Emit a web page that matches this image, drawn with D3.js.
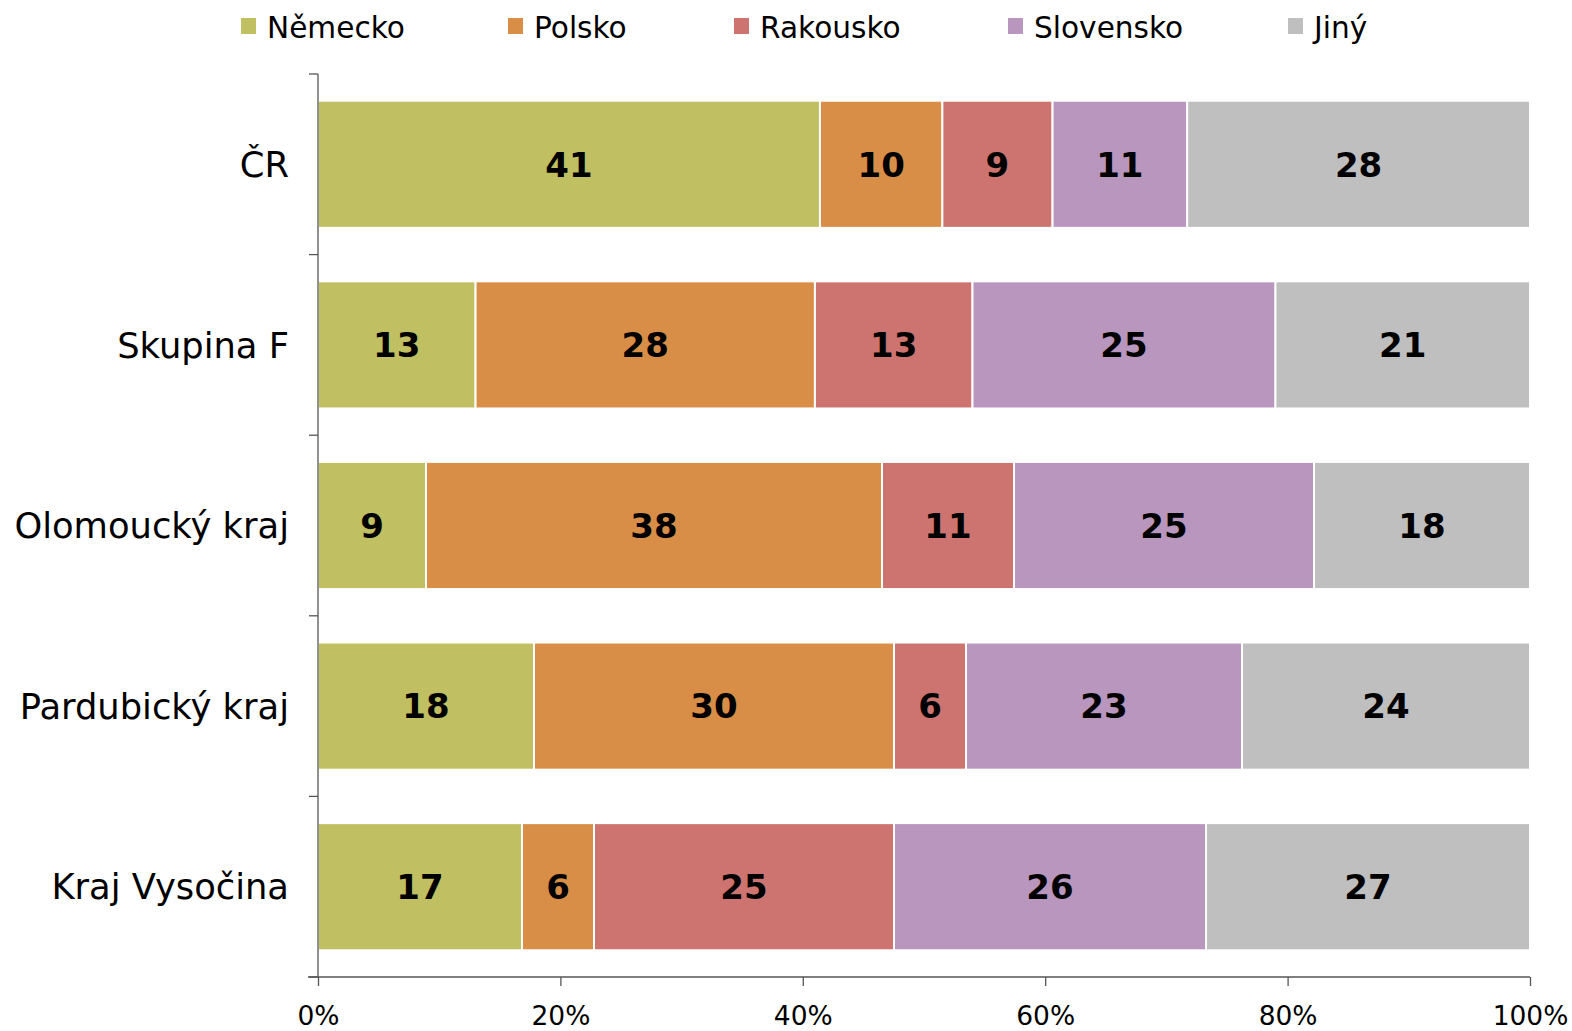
<!DOCTYPE html>
<html>
<head>
<meta charset="utf-8">
<script src="https://cdn.jsdelivr.net/npm/d3@7"></script>
<style>
  html, body { margin: 0; padding: 0; background: #fff; }
  svg { display: block; font-family: "DejaVu Sans", Verdana, sans-serif; }
</style>
</head>
<body>
<svg id="chart" width="1572" height="1031"></svg>
<script>
// Regions (rows, top to bottom)
const regions = ["ČR", "Skupina F", "Olomoucký kraj", "Pardubický kraj", "Kraj Vysočina"];
// Countries (stack order, left to right)
const countries = ["Německo", "Polsko", "Rakousko", "Slovensko", "Jiný"];
const colors = ["#C0BF62", "#D98E48", "#CD7470", "#B896BD", "#BFBFBF"];
// Shares per region, same order as countries
const nemecko   = [41, 13,  9, 18, 17];
const polsko    = [10, 28, 38, 30,  6];
const rakousko  = [ 9, 13, 11,  6, 25];
const slovensko = [11, 25, 25, 23, 26];
const jiny      = [28, 21, 18, 24, 27];
const xTicks = [0, 20, 40, 60, 80, 100];

const series = [nemecko, polsko, rakousko, slovensko, jiny];
const rows = regions.map((r, i) => {
  const o = { region: r };
  countries.forEach((c, k) => { o[c] = series[k][i]; });
  return o;
});

const stack = d3.stack().keys(countries).offset(d3.stackOffsetExpand);
const layers = stack(rows);

const svg = d3.select("#chart");
const margin = { left: 318, right: 42, top: 74, bottom: 54 };
const W = 1572, H = 1031;

const x = d3.scaleLinear().domain([0, 1]).range([margin.left, W - margin.right]);
const y = d3.scaleBand().domain(regions).range([margin.top, H - margin.bottom]).paddingInner(0.296).paddingOuter(0.148);
const yOuter = d3.scaleBand().domain(regions).range([margin.top, H - margin.bottom]);

const color = d3.scaleOrdinal().domain(countries).range(colors);

// Bars
const g = svg.append("g");
layers.forEach(layer => {
  g.selectAll(null).data(layer).enter().append("rect")
    .attr("x", d => x(d[0]))
    .attr("y", d => y(d.data.region))
    .attr("width", d => x(d[1]) - x(d[0]))
    .attr("height", y.bandwidth())
    .attr("fill", color(layer.key))
    .attr("stroke", "#fff")
    .attr("stroke-width", 2);
  // Value labels
  g.selectAll(null).data(layer).enter().append("text")
    .attr("x", d => (x(d[0]) + x(d[1])) / 2)
    .attr("y", d => y(d.data.region) + y.bandwidth() / 2)
    .attr("dy", "0.36em")
    .attr("text-anchor", "middle")
    .attr("font-weight", "bold")
    .attr("font-size", 34)
    .attr("fill", "#000")
    .text(d => d.data[layer.key]);
});

// Y axis line with category boundary ticks
const axisColor = "#555";
svg.append("line")
  .attr("x1", margin.left).attr("x2", margin.left)
  .attr("y1", margin.top).attr("y2", H - margin.bottom)
  .attr("stroke", axisColor).attr("stroke-width", 1.3);
const yBounds = regions.map(r => yOuter(r)).concat([H - margin.bottom]);
svg.selectAll(null).data(yBounds).enter().append("line")
  .attr("x1", margin.left - 9).attr("x2", margin.left)
  .attr("y1", d => d).attr("y2", d => d)
  .attr("stroke", axisColor).attr("stroke-width", 1.3);

// Category labels
svg.selectAll(null).data(regions).enter().append("text")
  .attr("x", margin.left - 29)
  .attr("y", r => yOuter(r) + yOuter.bandwidth() / 2)
  .attr("dy", "0.36em")
  .attr("text-anchor", "end")
  .attr("font-size", 35.3)
  .attr("fill", "#000")
  .text(r => r);

// X axis
const xAxis = d3.axisBottom(x)
  .tickValues(xTicks.map(v => v / 100))
  .tickFormat(v => Math.round(v * 100) + "%")
  .tickSize(9)
  .tickSizeOuter(0)
  .tickPadding(20);
const xg = svg.append("g")
  .attr("transform", `translate(0,${H - margin.bottom})`)
  .call(xAxis);
xg.select(".domain").attr("stroke", axisColor).attr("stroke-width", 1.3)
  .attr("d", `M${margin.left - 10},0H${W - margin.right}`);
xg.selectAll(".tick line").attr("stroke", axisColor).attr("stroke-width", 1.3);
xg.selectAll(".tick text").attr("font-size", 26.5).attr("fill", "#000")
  .attr("font-family", "DejaVu Sans, Verdana, sans-serif");

// Legend
const legendX = [241, 508, 734, 1008, 1288];
const lg = svg.append("g");
countries.forEach((c, k) => {
  lg.append("rect")
    .attr("x", legendX[k]).attr("y", 18)
    .attr("width", 15).attr("height", 16)
    .attr("fill", colors[k]);
  lg.append("text")
    .attr("x", legendX[k] + 26).attr("y", 27)
    .attr("dy", "0.36em")
    .attr("font-size", 29.6)
    .attr("fill", "#000")
    .text(c);
});
</script>
</body>
</html>
